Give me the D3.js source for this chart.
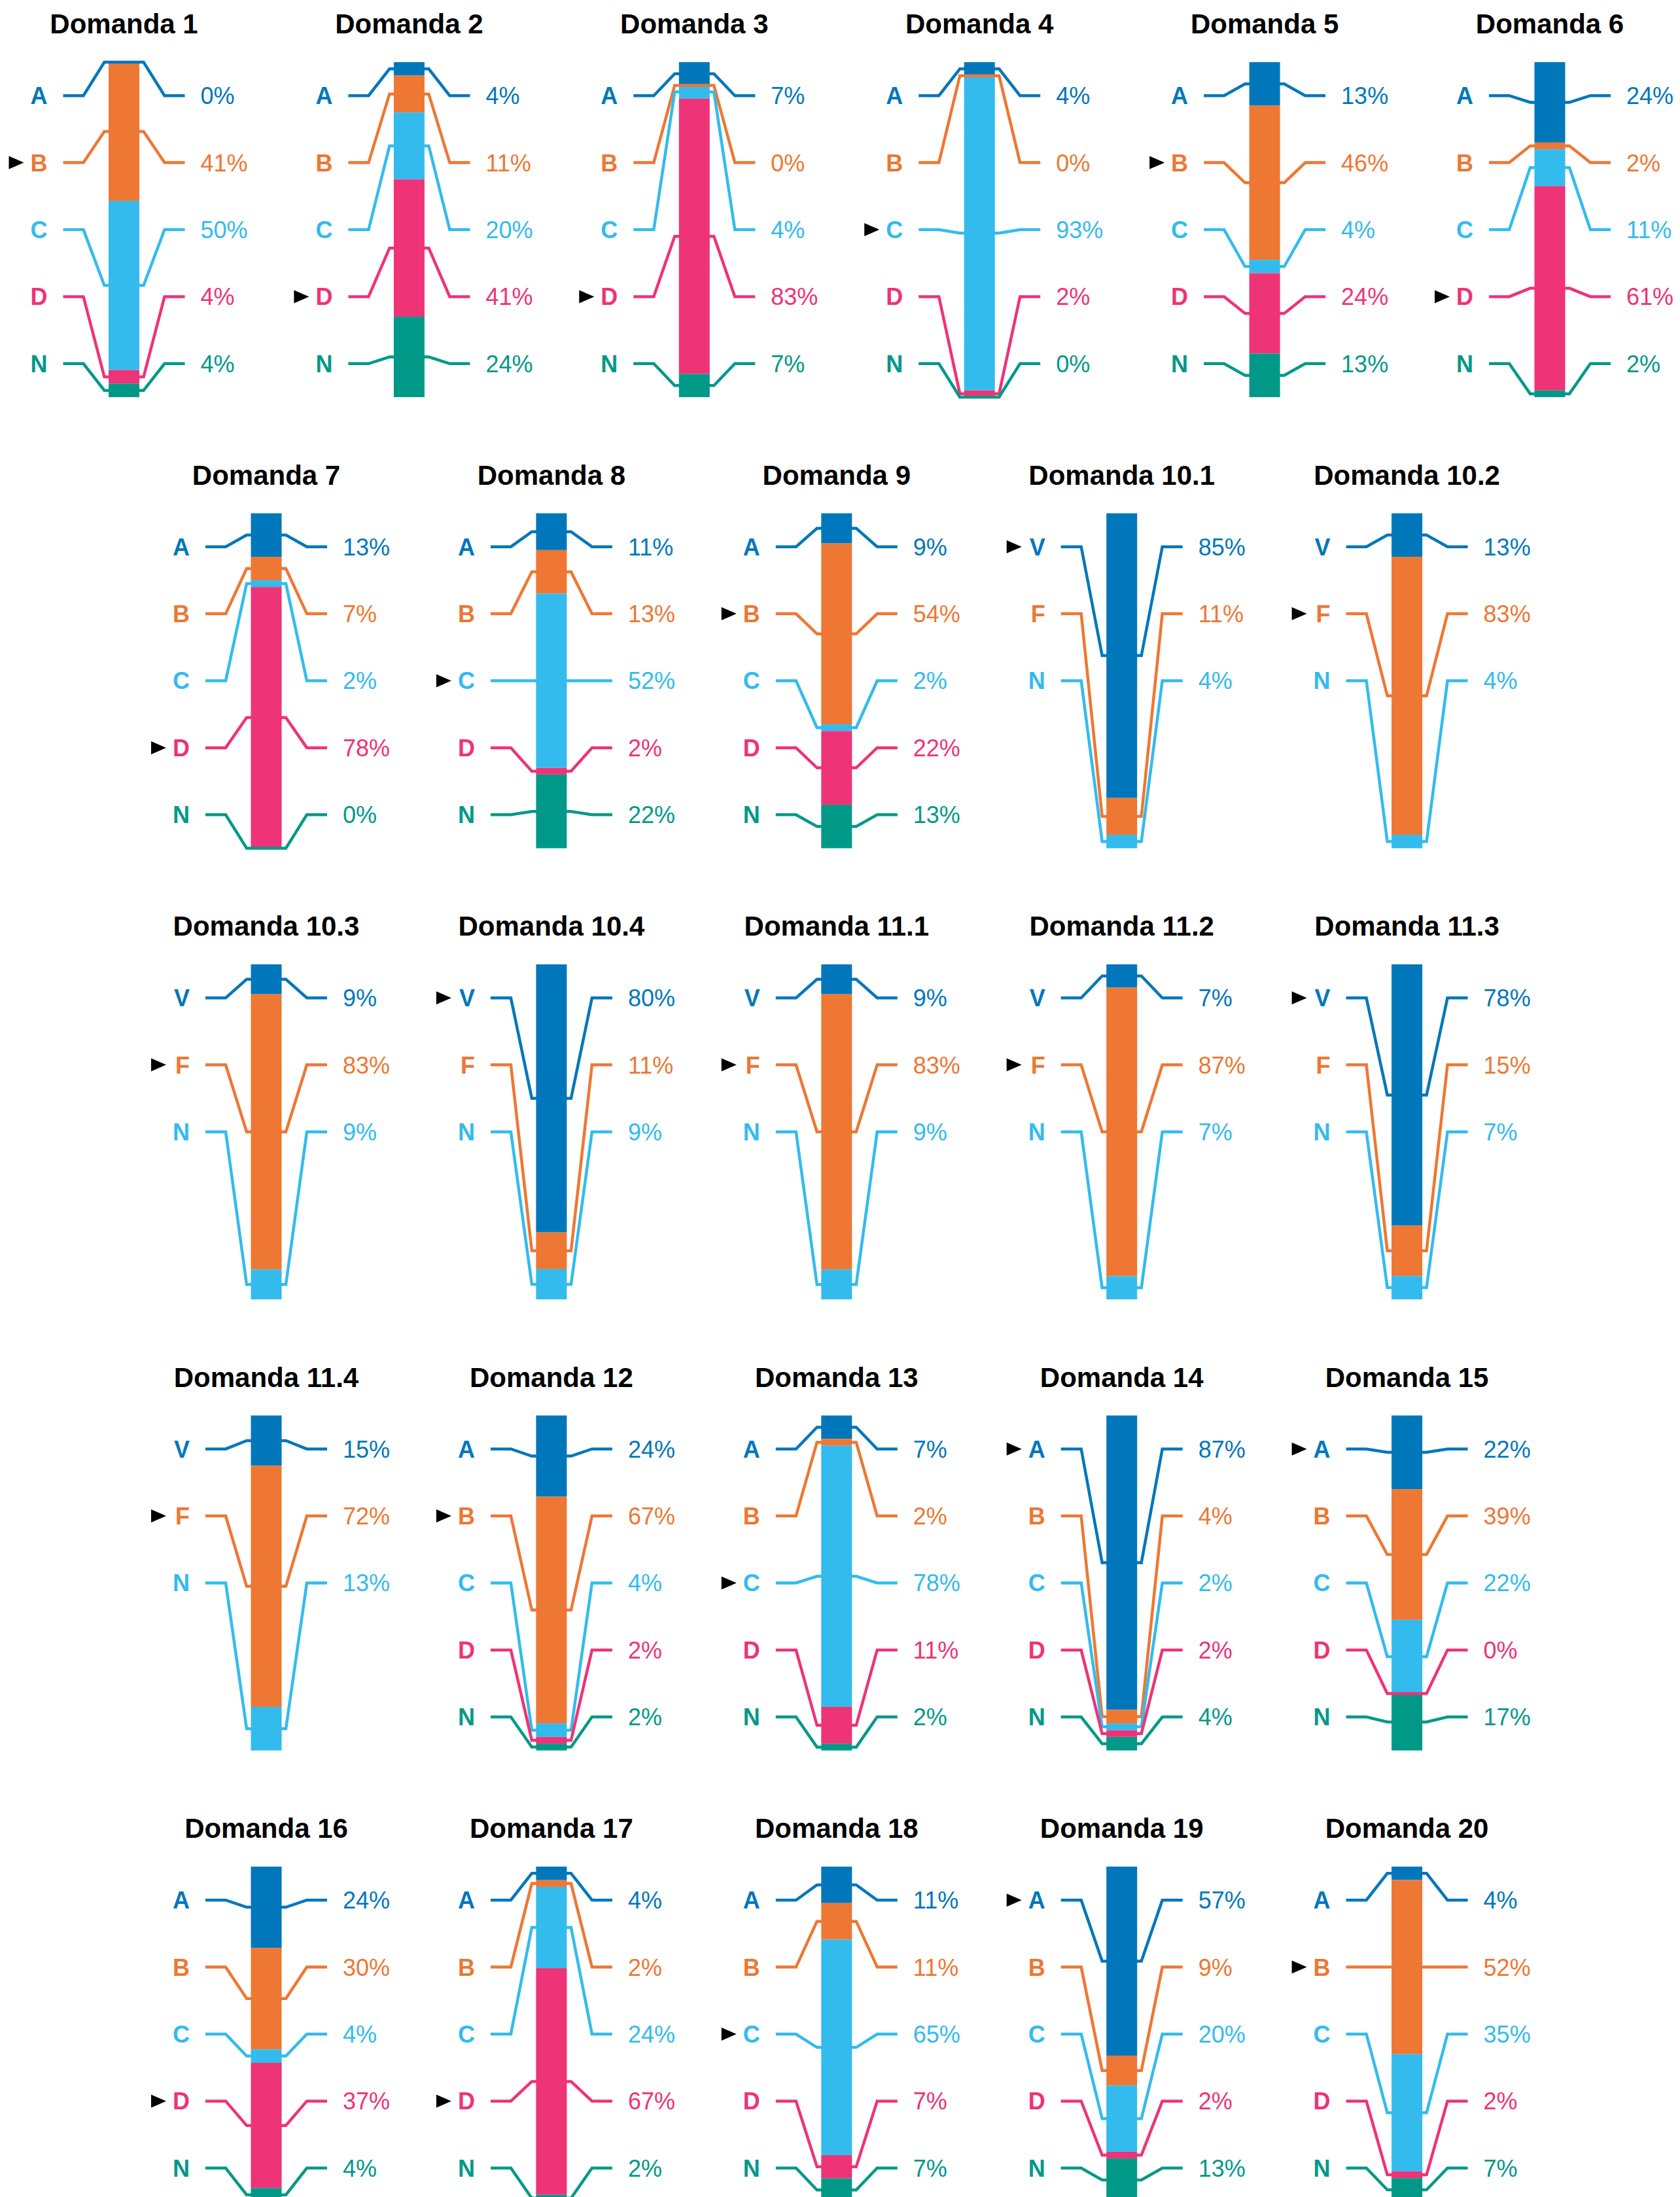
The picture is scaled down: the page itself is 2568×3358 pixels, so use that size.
<!DOCTYPE html>
<html>
<head>
<meta charset="utf-8">
<script src="https://cdn.jsdelivr.net/npm/d3@7"></script>
<style>
  body { margin: 0; background: #fff; }
  text { font-family: "Liberation Sans", Arial, Helvetica, sans-serif; }
</style>
</head>
<body>
<div id="chart"></div>
<script>
// Chart data
var titles = [
    "Domanda 1", "Domanda 2", "Domanda 3", "Domanda 4", "Domanda 5", "Domanda 6",
    "Domanda 7", "Domanda 8", "Domanda 9", "Domanda 10.1", "Domanda 10.2",
    "Domanda 10.3", "Domanda 10.4", "Domanda 11.1", "Domanda 11.2", "Domanda 11.3",
    "Domanda 11.4", "Domanda 12", "Domanda 13", "Domanda 14", "Domanda 15",
    "Domanda 16", "Domanda 17", "Domanda 18", "Domanda 19", "Domanda 20"
];

var choices5 = ["A", "B", "C", "D", "N"];
var choices3 = ["V", "F", "N"];

// percentages per answer, as printed
var values = [
    [0, 41, 50, 4, 4],
    [4, 11, 20, 41, 24],
    [7, 0, 4, 83, 7],
    [4, 0, 93, 2, 0],
    [13, 46, 4, 24, 13],
    [24, 2, 11, 61, 2],
    [13, 7, 2, 78, 0],
    [11, 13, 52, 2, 22],
    [9, 54, 2, 22, 13],
    [85, 11, 4],
    [13, 83, 4],
    [9, 83, 9],
    [80, 11, 9],
    [9, 83, 9],
    [7, 87, 7],
    [78, 15, 7],
    [15, 72, 13],
    [24, 67, 4, 2, 2],
    [7, 2, 78, 11, 2],
    [87, 4, 2, 2, 4],
    [22, 39, 22, 0, 17],
    [24, 30, 4, 37, 4],
    [4, 2, 24, 67, 2],
    [11, 11, 65, 7, 7],
    [57, 9, 20, 2, 13],
    [4, 52, 35, 2, 7]
];

// correct answer for each question
var answers = [
    "B", "D", "D", "C", "B", "D",
    "D", "C", "B", "V", "F",
    "F", "V", "F", "F", "V",
    "F", "B", "C", "A", "A",
    "D", "D", "C", "A", "B"
];

// panels per grid row
var rowSizes = [6, 5, 5, 5, 5];

var colors5 = ["#0077BB", "#EE7733", "#33BBEE", "#EE3377", "#009988"];
var colors3 = ["#0077BB", "#EE7733", "#33BBEE"];

// Layout
var width = 2568, height = 3358;
var barW = 47, barH = 512;
var colStep = 435.9;
var rowStep = 689.5;
var firstTop = 95;

var svg = d3.select("#chart")
    .append("svg")
        .attr("width", width)
        .attr("height", height);

// bar top per grid row
var rowTop = d3.scaleLinear().domain([0, 1]).range([firstTop, firstTop + rowStep]);

// label rows inside a panel (always 5 slots)
var slotScale = d3.scaleBand().domain(d3.range(5)).range([0, barH]);

var line = d3.line();

var idx = 0;
rowSizes.forEach(function(n, r) {
    var x0 = r === 0 ? 189.5 : 407;
    var colX = d3.scaleLinear().domain([0, 1]).range([x0, x0 + colStep]);

    for (var c = 0; c < n; c++, idx++) {
        var vals = values[idx];
        var cats = vals.length === 5 ? choices5 : choices3;
        var cols = vals.length === 5 ? colors5 : colors3;

        var g = svg.append("g")
            .attr("transform", `translate(${colX(c)}, ${rowTop(r)})`);

        var yScale = d3.scaleLinear()
            .domain([0, d3.sum(vals)])
            .range([0, barH]);

        var starts = [0].concat(Array.from(d3.cumsum(vals)));

        var segs = vals.map(function(v, i) {
            return { cat: cats[i], color: cols[i], v: v, y0: starts[i], y1: starts[i] + v, slot: i };
        });

        // Title
        g.append("text")
            .attr("x", 0)
            .attr("y", -44)
            .attr("text-anchor", "middle")
            .attr("font-size", "42px")
            .attr("font-weight", "bold")
            .attr("fill", "#000")
            .text(titles[idx]);

        // Stacked bar
        g.selectAll("rect")
            .data(segs)
            .enter()
            .append("rect")
            .attr("x", -barW / 2)
            .attr("width", barW)
            .attr("y", d => yScale(d.y0))
            .attr("height", d => yScale(d.y1) - yScale(d.y0))
            .attr("fill", d => d.color);

        // Connector lines from label row to middle of its segment
        g.selectAll("path.link")
            .data(segs)
            .enter()
            .append("path")
            .classed("link", true)
            .attr("d", function(d) {
                var ry = slotScale(d.slot) + slotScale.bandwidth() / 2;
                var my = yScale((d.y0 + d.y1) / 2);
                return line([[-93, ry], [-62, ry], [-30, my], [30, my], [62, ry], [93, ry]]);
            })
            .attr("fill", "none")
            .attr("stroke", d => d.color)
            .attr("stroke-width", 4.5);

        // Answer letters
        g.selectAll("text.cat")
            .data(segs)
            .enter()
            .append("text")
            .classed("cat", true)
            .attr("x", -117)
            .attr("y", d => slotScale(d.slot) + slotScale.bandwidth() / 2)
            .attr("dy", "0.36em")
            .attr("text-anchor", "end")
            .attr("font-size", "36px")
            .attr("font-weight", "bold")
            .attr("fill", d => d.color)
            .text(d => d.cat);

        // Percent labels
        g.selectAll("text.pct")
            .data(segs)
            .enter()
            .append("text")
            .classed("pct", true)
            .attr("x", 117)
            .attr("y", d => slotScale(d.slot) + slotScale.bandwidth() / 2)
            .attr("dy", "0.36em")
            .attr("font-size", "36px")
            .attr("fill", d => d.color)
            .text(d => d.v + "%");

        // Arrow marking the correct answer
        var ai = cats.indexOf(answers[idx]);
        var ay = slotScale(ai) + slotScale.bandwidth() / 2;
        g.append("path")
            .attr("d", `M-176,${ay - 10}L-153,${ay}L-176,${ay + 10}Z`)
            .attr("fill", "#000");
    }
});
</script>
</body>
</html>
